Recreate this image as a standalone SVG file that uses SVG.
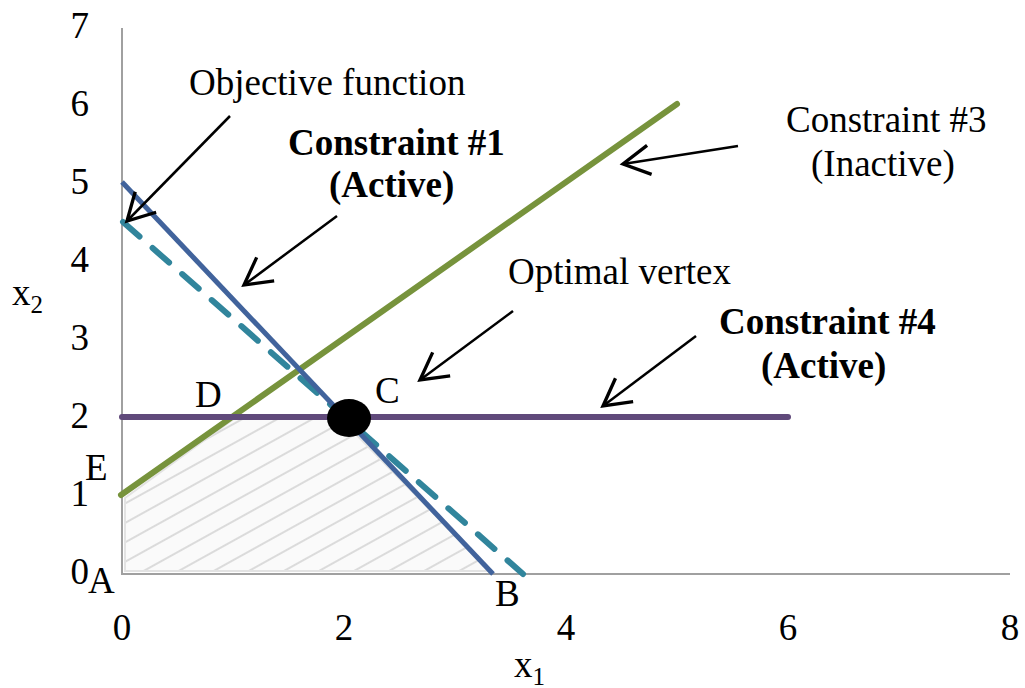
<svg xmlns="http://www.w3.org/2000/svg" width="1025" height="688" viewBox="0 0 1025 688">
<style>
text{font-family:"Liberation Serif","Times New Roman",serif;font-size:37px;fill:#000}
.b{font-weight:bold}
.sub{font-size:25px}
.tick{text-anchor:end}
.xt{text-anchor:middle}
.axis{stroke:#a0a0a0;stroke-width:2;fill:none}
.arr{stroke:#000;stroke-width:2.5;fill:none;marker-end:url(#ah)}
</style>
<defs>
<marker id="ah" markerUnits="userSpaceOnUse" markerWidth="40" markerHeight="40" viewBox="-25 -15 30 30" refX="0" refY="0" orient="auto">
<path d="M-20,-11 L0,0 L-20,11" fill="none" stroke="#000" stroke-width="2.5"/>
</marker>
<pattern id="hatch" patternUnits="userSpaceOnUse" width="17" height="17" patternTransform="rotate(-29)">
<rect width="17" height="17" fill="#fafafa"/>
<line x1="0" y1="8" x2="17" y2="8" stroke="#bdbdbd" stroke-width="1"/>
</pattern>
</defs>
<rect width="1025" height="688" fill="#fff"/>
<g id="region">
<polygon points="125,571 125,498 235,418 340,418 490,571" fill="url(#hatch)" stroke="#e3e3e3" stroke-width="2"/>
</g>
<g id="axes">
<polyline class="axis" points="122,28 122,574 1010,574"/>
</g>
<g id="lines">
<line id="c3" x1="121" y1="495" x2="677" y2="104" stroke="#77933c" stroke-width="6" stroke-linecap="round"/>
<line id="obj" x1="123" y1="222" x2="523" y2="574" stroke="#31859c" stroke-width="6" stroke-dasharray="22,17.4" stroke-linecap="round"/>
<line id="c1" x1="122" y1="182" x2="493" y2="574" stroke="#41639c" stroke-width="5"/>
<line id="c4" x1="122" y1="417" x2="788" y2="417" stroke="#604a7b" stroke-width="6" stroke-linecap="round"/>
</g>
<g id="vertex">
<ellipse cx="349" cy="418" rx="22" ry="19" fill="#000"/>
</g>
<g id="connectors">
<line class="arr" x1="230" y1="116" x2="127" y2="221"/>
<line class="arr" x1="337" y1="216" x2="244" y2="285"/>
<line class="arr" x1="738" y1="146" x2="623" y2="164"/>
<line class="arr" x1="513" y1="311" x2="420" y2="380"/>
<line class="arr" x1="696" y1="336" x2="603" y2="406"/>
</g>
<g id="labels">
<text x="189" y="95">Objective function</text>
<text class="b" x="288" y="155">Constraint #1</text>
<text class="b" x="329" y="197">(Active)</text>
<text x="786" y="132">Constraint #3</text>
<text x="811" y="176">(Inactive)</text>
<text x="508" y="284">Optimal vertex</text>
<text class="b" x="719" y="334">Constraint #4</text>
<text class="b" x="761" y="378">(Active)</text>
<text x="195" y="407">D</text>
<text x="375" y="403">C</text>
<text x="85" y="480">E</text>
<text x="88" y="593">A</text>
<text x="495" y="606">B</text>
</g>
<g id="ticks">
<text class="tick" x="89" y="38">7</text>
<text class="tick" x="89" y="116">6</text>
<text class="tick" x="89" y="194">5</text>
<text class="tick" x="89" y="272">4</text>
<text class="tick" x="89" y="350">3</text>
<text class="tick" x="89" y="428">2</text>
<text class="tick" x="89" y="506">1</text>
<text class="tick" x="89" y="584">0</text>
<text class="xt" x="122" y="640">0</text>
<text class="xt" x="344" y="640">2</text>
<text class="xt" x="566" y="640">4</text>
<text class="xt" x="788" y="640">6</text>
<text class="xt" x="1010" y="640">8</text>
<text x="514" y="677">x<tspan class="sub" dy="8">1</tspan></text>
<text x="12" y="305">x<tspan class="sub" dy="8">2</tspan></text>
</g>
</svg>
